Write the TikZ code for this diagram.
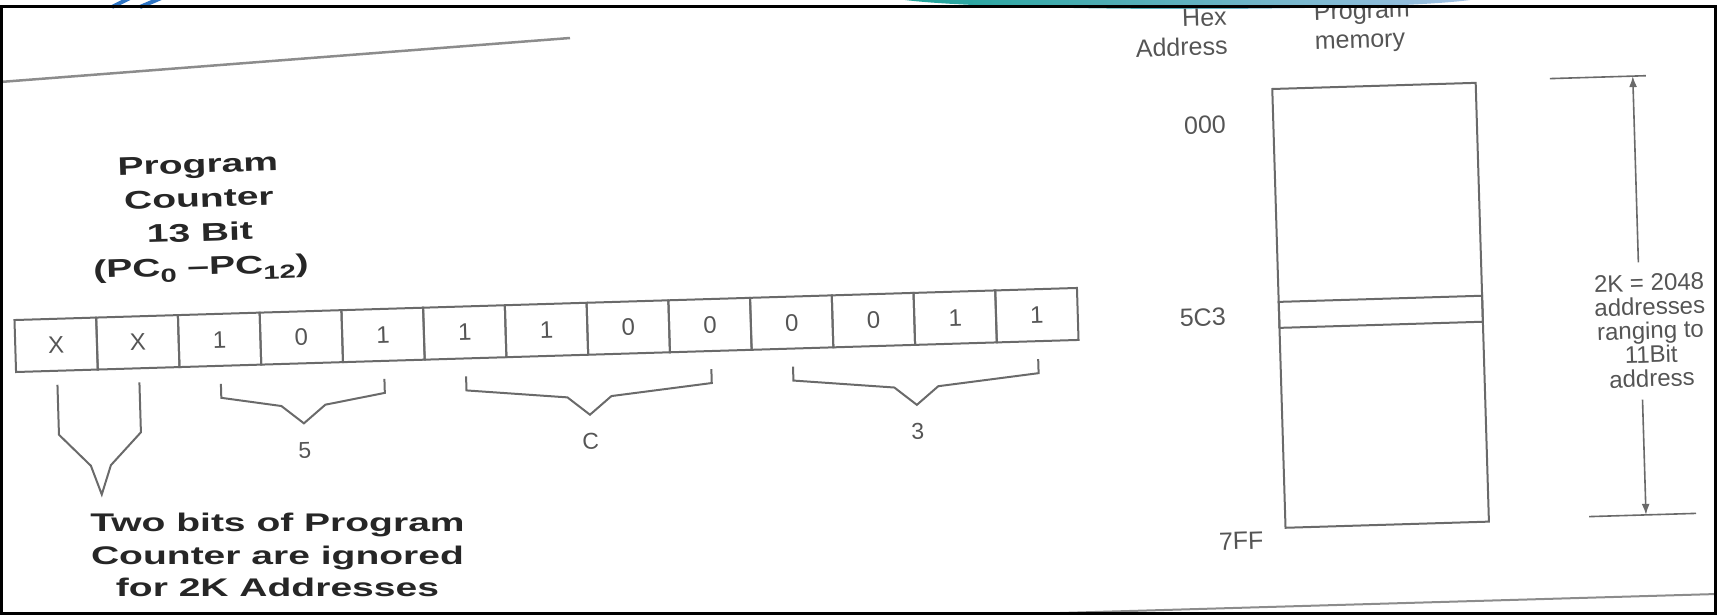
\documentclass[tikz,border=0pt]{standalone}
\usepackage{fontspec}
\setmainfont{Liberation Sans}
\newfontfamily\widebold{Liberation Sans}[FakeStretch=1.53]
\usepackage{xcolor}
\definecolor{ink}{HTML}{262626}
\definecolor{pencil}{HTML}{555555}
\definecolor{lead}{HTML}{6A6A6A}
\definecolor{scan}{HTML}{8C8C8C}
\definecolor{slideteal}{HTML}{1FA39A}
\definecolor{slideblue}{HTML}{2D74C4}
\usetikzlibrary{arrows.meta}
\tikzset{
  >={Latex[length=11pt,width=8pt]},
  cell/.style  ={draw=lead,line width=2pt,minimum width=81.8pt,
                 minimum height=52pt,inner sep=0pt,outer sep=0pt,
                 font=\fontsize{24}{24}\selectfont,text=pencil},
  mem/.style   ={draw=lead,line width=2pt,minimum width=203.5pt,
                 inner sep=0pt,outer sep=0pt},
  title/.style ={font=\widebold\bfseries\fontsize{25.5}{34}\selectfont,
                 text=ink,align=center},
  addr/.style  ={font=\fontsize{25}{29}\selectfont,text=pencil,inner sep=2pt},
  span/.style  ={font=\fontsize{24}{24}\selectfont,text=pencil,align=center},
  grp/.style   ={font=\fontsize{23}{23}\selectfont,text=pencil},
  brace/.style ={draw=lead,line width=2pt},
  dim/.style   ={->,draw=lead,line width=1.6pt},
}
% bracket under a group of bits: left cell centre, right cell centre, hex digit
\newcommand{\grpbrace}[4]{%
  \draw[brace] (#1,374) -- (#1,388) -- ({(#1+#2)/2-22},398) -- ({(#1+#2)/2},416)
    -- ({(#1+#2)/2+22},398) -- (#2,388) -- (#2,374);
  \node[grp] (#4) at ({(#1+#2)/2},443) {#3};}
\newcommand{\pcsub}[1]{\raisebox{-6pt}{\fontsize{19}{19}\selectfont #1}}

\begin{document}
\begin{tikzpicture}[x=1pt,y=-1pt]
\useasboundingbox (0,0) rectangle (1717,616);
% slide remnants above the frame
\shade[left color=slideteal,right color=slideblue!45] (905,0) .. controls (1000,12) and (1380,12) .. (1470,0) -- cycle;
\draw[slideblue,line width=4pt] (112,7) -- (134,-4);
\draw[slideblue,line width=4pt] (140,7) -- (166,-4);
\begin{scope}
\clip (3,7.5) rectangle (1714,611.5);
% page edges of the copy
\draw[scan,line width=2.5pt] (0,82) -- (570,38);
\draw[scan,line width=2pt] (1060,613) -- (1717,594);
\node[title,font=\widebold\bfseries\fontsize{25.5}{32.5}\selectfont] (ignored) at (277.5,555)
 {Two bits of Program\\Counter are ignored\\for 2K Addresses};
\begin{scope}[rotate around={1.73:(546,330)},transform shape]
% program counter
\node[title] (pclbl) at (203,208) {Program\\Counter\\13 Bit\\(PC\pcsub{0} \textendash PC\pcsub{12})};
\node[cell] (c1) at (55.9,330) {X};
\node[cell] (c2) at (137.6,330) {X};
\node[cell] (c3) at (219.4,330) {1};
\node[cell] (c4) at (301.2,330) {0};
\node[cell] (c5) at (383.0,330) {1};
\node[cell] (c6) at (464.7,330) {1};
\node[cell] (c7) at (546.5,330) {1};
\node[cell] (c8) at (628.3,330) {0};
\node[cell] (c9) at (710.1,330) {0};
\node[cell] (c10) at (791.8,330) {0};
\node[cell] (c11) at (873.6,330) {0};
\node[cell] (c12) at (955.4,330) {1};
\node[cell] (c13) at (1037.1,330) {1};
% ignored bits
\draw[brace] (56,370) -- (56,420) -- (87,452) -- (97,481) -- (107,452) -- (138,420) -- (138,370);
% hex digits
\grpbrace{219.4}{383.0}{5}{g5}
\grpbrace{464.7}{710.1}{C}{gC}
\grpbrace{791.8}{1037.1}{3}{g3}
% program memory
\node[addr,align=right,anchor=east] (hex) at (1238,52) {Hex\\Address};
\node[addr,align=left,anchor=west] (pmem) at (1321,52) {Program\\memory};
\node[mem,minimum height=439pt] (mem) at (1381,330.5) {};
\node[mem,minimum height=26pt] (slot) at (1381,337) {};
\node[addr,anchor=east] (a000) at (1234,145) {000};
\node[addr,anchor=east] (a5c3) at (1228,337) {5C3};
\node[addr,anchor=east] (a7ff) at (1259,562) {7FF};
% 2K span
\coordinate (dtop) at (1640,109);
\coordinate (dbot) at (1640,548);
\draw[brace,line width=1.6pt] (1557,109) -- (1653,109);
\draw[brace,line width=1.6pt] (1583,548) -- (1690,548);
\node[span,inner sep=12pt] (span) at (1650,364) {2K = 2048\\addresses\\ranging to\\11Bit\\address};
\draw[dim] (span.north -| dtop) -- (dtop);
\draw[dim] (span.south -| dbot) -- (dbot);
\end{scope}
\end{scope}
\draw[line width=3pt] (1.5,6) rectangle (1715.5,613);
\end{tikzpicture}
\end{document}
